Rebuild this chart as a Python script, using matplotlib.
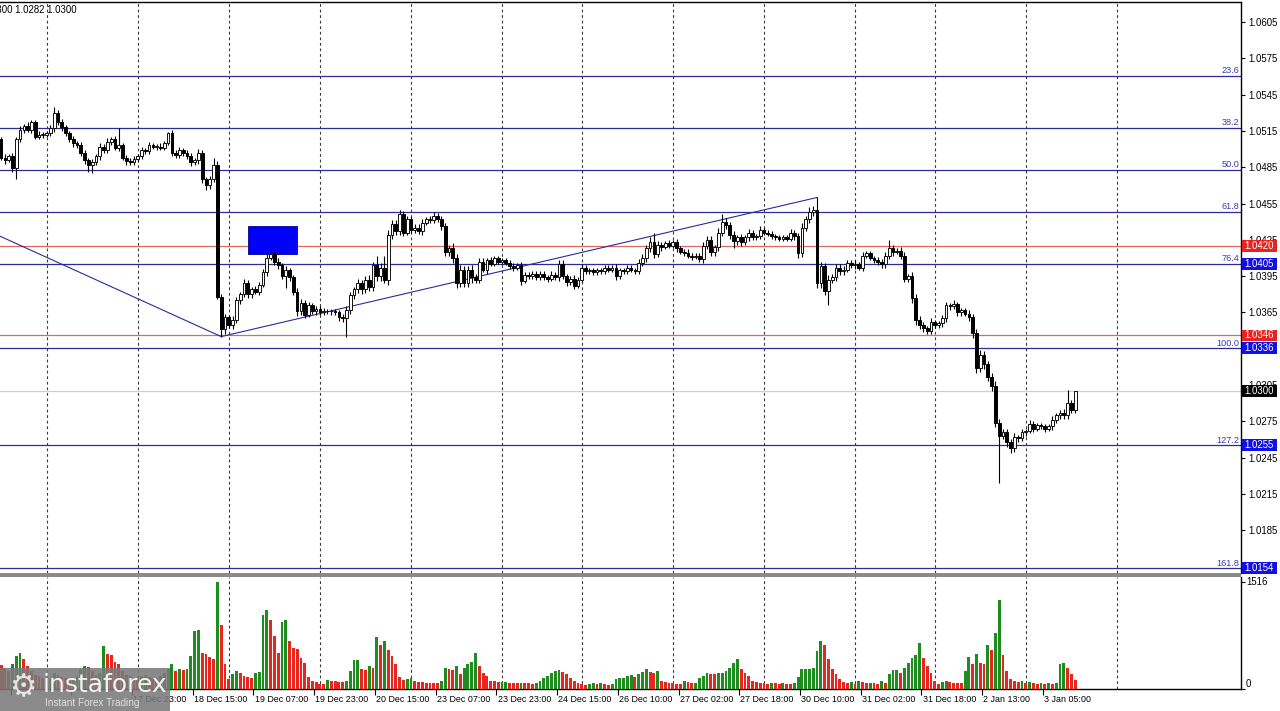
import numpy as np
import matplotlib
matplotlib.use("Agg")
import matplotlib.pyplot as plt
from matplotlib.patches import Rectangle
import matplotlib.transforms as mtransforms

plt.rcParams['font.family'] = ['Liberation Sans', 'DejaVu Sans']

# ---------------- data (hourly EURUSD bars) ----------------
open_first = 1.0508
close = [
    1.0493, 1.0491, 1.0494, 1.0484, 1.0508, 1.0516, 1.0519, 1.0516, 1.0522, 1.0510,
    1.0512, 1.0512, 1.0513, 1.0517, 1.0530, 1.0522, 1.0518, 1.0513, 1.0508, 1.0505,
    1.0503, 1.0497, 1.0491, 1.0487, 1.0489, 1.0494, 1.0502, 1.0499, 1.0506, 1.0508,
    1.0501, 1.0503, 1.0493, 1.0490, 1.0489, 1.0492, 1.0494, 1.0499, 1.0498, 1.0503,
    1.0502, 1.0502, 1.0501, 1.0505, 1.0513, 1.0497, 1.0495, 1.0499, 1.0497, 1.0494,
    1.0489, 1.0491, 1.0497, 1.0475, 1.0470, 1.0475, 1.0487, 1.0378, 1.0351, 1.0361,
    1.0355, 1.0359, 1.0375, 1.0380, 1.0389, 1.0380, 1.0384, 1.0382, 1.0388, 1.0398,
    1.0410, 1.0413, 1.0407, 1.0404, 1.0395, 1.0400, 1.0394, 1.0382, 1.0366, 1.0373,
    1.0363, 1.0371, 1.0366, 1.0368, 1.0365, 1.0366, 1.0366, 1.0366, 1.0365, 1.0361,
    1.0360, 1.0367, 1.0379, 1.0384, 1.0389, 1.0384, 1.0392, 1.0386, 1.0404, 1.0395,
    1.0402, 1.0392, 1.0429, 1.0438, 1.0432, 1.0446, 1.0431, 1.0442, 1.0433, 1.0435,
    1.0432, 1.0439, 1.0442, 1.0441, 1.0445, 1.0442, 1.0436, 1.0415, 1.0418, 1.0410,
    1.0389, 1.0400, 1.0389, 1.0400, 1.0394, 1.0392, 1.0407, 1.0400, 1.0408, 1.0405,
    1.0410, 1.0407, 1.0408, 1.0406, 1.0403, 1.0402, 1.0404, 1.0391, 1.0396, 1.0395,
    1.0397, 1.0394, 1.0397, 1.0394, 1.0393, 1.0396, 1.0394, 1.0405, 1.0395, 1.0390,
    1.0393, 1.0387, 1.0392, 1.0402, 1.0399, 1.0400, 1.0398, 1.0400, 1.0399, 1.0402,
    1.0400, 1.0402, 1.0395, 1.0400, 1.0399, 1.0402, 1.0400, 1.0399, 1.0406, 1.0410,
    1.0418, 1.0423, 1.0413, 1.0421, 1.0419, 1.0422, 1.0420, 1.0423, 1.0418, 1.0415,
    1.0414, 1.0412, 1.0411, 1.0412, 1.0409, 1.0420, 1.0425, 1.0415, 1.0419, 1.0431,
    1.0440, 1.0437, 1.0429, 1.0424, 1.0427, 1.0423, 1.0427, 1.0431, 1.0427, 1.0428,
    1.0433, 1.0431, 1.0430, 1.0428, 1.0427, 1.0426, 1.0427, 1.0426, 1.0431, 1.0428,
    1.0414, 1.0435, 1.0442, 1.0448, 1.0450, 1.0389, 1.0403, 1.0383, 1.0392, 1.0394,
    1.0402, 1.0399, 1.0400, 1.0406, 1.0404, 1.0405, 1.0402, 1.0412, 1.0414, 1.0410,
    1.0408, 1.0407, 1.0405, 1.0412, 1.0418, 1.0415, 1.0416, 1.0412, 1.0393, 1.0395,
    1.0377, 1.0359, 1.0355, 1.0352, 1.0350, 1.0357, 1.0355, 1.0356, 1.0360, 1.0371,
    1.0370, 1.0372, 1.0365, 1.0367, 1.0364, 1.0361, 1.0348, 1.0319, 1.0330, 1.0322,
    1.0312, 1.0304, 1.0274, 1.0263, 1.0266, 1.0258, 1.0253, 1.0262, 1.0261, 1.0266,
    1.0267, 1.0273, 1.0269, 1.0272, 1.0271, 1.0269, 1.0271, 1.0276, 1.0280, 1.0282,
    1.0280, 1.0290, 1.0284, 1.0300,
]
# upper / lower shadow lengths in pips
wick_up = [
    2, 3, 2, 3, 2, 3, 2, 3, 2, 2, 3, 2, 2, 3, 5, 2, 3, 2, 2, 3,
    2, 3, 2, 2, 3, 2, 3, 2, 3, 2, 3, 14, 2, 2, 3, 2, 2, 3, 2, 3,
    2, 2, 3, 2, 1, 3, 2, 3, 2, 2, 3, 2, 3, 2, 2, 3, 6, 3, 2, 3,
    2, 3, 3, 2, 4, 3, 2, 3, 2, 3, 3, 8, 3, 3, 2, 3, 2, 2, 3, 3,
    2, 3, 2, 2, 2, 3, 2, 2, 2, 2, 3, 3, 3, 2, 4, 3, 3, 4, 3, 8,
    4, 10, 4, 3, 3, 4, 3, 3, 2, 3, 3, 3, 2, 3, 3, 2, 3, 3, 3, 4,
    3, 4, 3, 3, 4, 3, 3, 3, 2, 3, 2, 2, 2, 2, 2, 3, 2, 3, 2, 2,
    2, 2, 2, 2, 2, 3, 2, 3, 3, 2, 2, 3, 2, 3, 2, 2, 2, 2, 2, 2,
    2, 2, 3, 2, 2, 2, 2, 2, 3, 3, 3, 4, 8, 3, 2, 2, 3, 2, 3, 2,
    2, 3, 2, 2, 2, 3, 3, 3, 2, 4, 6, 3, 3, 3, 2, 3, 2, 3, 2, 2,
    3, 2, 2, 2, 2, 2, 2, 2, 3, 2, 3, 4, 3, 4, 3, 10, 4, 3, 4, 3,
    3, 3, 3, 2, 2, 3, 2, 3, 2, 2, 2, 3, 2, 3, 7, 3, 2, 3, 3, 2,
    3, 3, 3, 2, 2, 3, 2, 2, 3, 3, 2, 3, 2, 2, 2, 3, 3, 3, 4, 3,
    3, 3, 4, 3, 3, 3, 2, 3, 2, 3, 2, 3, 2, 2, 2, 2, 2, 3, 2, 2,
    3, 11, 3, 0,
]
wick_dn = [
    2, 3, 2, 3, 9, 2, 3, 2, 3, 2, 2, 3, 2, 2, 3, 2, 3, 2, 2, 3,
    2, 3, 3, 6, 7, 2, 3, 2, 2, 3, 2, 3, 2, 3, 2, 2, 3, 2, 2, 2,
    2, 3, 2, 2, 2, 3, 2, 2, 3, 2, 3, 2, 3, 3, 4, 3, 2, 2, 6, 4,
    3, 4, 3, 3, 2, 3, 3, 2, 3, 2, 3, 2, 3, 3, 2, 10, 3, 3, 4, 3,
    3, 2, 2, 3, 2, 2, 2, 3, 2, 3, 3, 15, 3, 3, 3, 4, 3, 3, 3, 4,
    4, 3, 4, 3, 3, 3, 3, 2, 2, 2, 2, 3, 2, 2, 2, 2, 3, 3, 3, 4,
    4, 3, 3, 3, 5, 3, 3, 2, 3, 2, 2, 2, 2, 2, 2, 3, 2, 3, 2, 2,
    2, 2, 2, 2, 3, 2, 2, 3, 2, 3, 2, 3, 2, 2, 2, 2, 2, 2, 2, 2,
    2, 2, 3, 2, 2, 2, 2, 2, 2, 3, 3, 3, 3, 2, 3, 2, 2, 2, 3, 2,
    2, 2, 3, 2, 2, 3, 3, 3, 3, 3, 3, 3, 3, 6, 3, 3, 2, 3, 2, 2,
    2, 2, 2, 2, 2, 2, 2, 2, 2, 3, 4, 3, 3, 3, 3, 4, 4, 4, 12, 3,
    3, 3, 3, 2, 2, 3, 2, 3, 2, 2, 2, 3, 3, 3, 3, 3, 2, 3, 3, 3,
    4, 4, 4, 3, 3, 3, 3, 3, 3, 3, 3, 2, 3, 3, 2, 3, 4, 4, 3, 4,
    4, 4, 4, 39, 3, 4, 4, 3, 3, 2, 3, 2, 3, 2, 2, 3, 2, 3, 2, 3,
    3, 3, 2, 2,
]
volume = [
    340, 300, 250, 350, 466, 513, 420, 330, 260, 200,
    180, 150, 140, 160, 220, 200, 170, 150, 130, 150,
    180, 280, 330, 310, 250, 200, 230, 615, 495, 480,
    380, 360, 250, 200, 180, 160, 150, 180, 200, 170,
    160, 150, 180, 220, 280, 350, 256, 280, 275, 285,
    466, 815, 840, 513, 490, 450, 420, 1516, 909, 350,
    140, 210, 256, 233, 186, 163, 150, 233, 240, 1049,
    1118, 979, 746, 513, 955, 979, 676, 583, 560, 443,
    373, 163, 116, 93, 70, 68, 126, 116, 107, 105,
    93, 116, 256, 405, 410, 280, 275, 326, 303, 732,
    630, 676, 559, 466, 350, 163, 126, 140, 154, 107,
    105, 93, 90, 88, 80, 78, 107, 303, 280, 275,
    326, 210, 303, 350, 382, 503, 326, 233, 186, 116,
    107, 93, 95, 100, 85, 80, 78, 85, 80, 78,
    70, 90, 114, 157, 186, 229, 257, 265, 243, 214,
    150, 114, 86, 70, 60, 75, 85, 70, 80, 65,
    60, 75, 140, 150, 160, 186, 200, 175, 210, 240,
    290, 245, 230, 250, 116, 95, 90, 80, 75, 70,
    116, 93, 80, 85, 150, 190, 224, 215, 210, 224,
    225, 260, 303, 373, 419, 280, 233, 186, 107, 100,
    90, 80, 75, 85, 80, 70, 85, 75, 70, 90,
    163, 280, 285, 290, 303, 536, 685, 629, 419, 280,
    210, 140, 93, 80, 93, 70, 107, 93, 80, 90,
    80, 70, 107, 80, 210, 266, 270, 233, 294, 373,
    443, 480, 652, 443, 326, 233, 116, 70, 93, 110,
    100, 90, 85, 80, 256, 452, 359, 489, 373, 350,
    629, 559, 792, 1258, 475, 256, 140, 107, 93, 107,
    89, 102, 80, 70, 80, 70, 85, 75, 80, 359,
    365, 303, 210, 126,
]

# time axis (bar indices); the first labels lie under the watermark
time_label_bars = [35, 51, 67, 83, 99, 115, 131, 147, 163, 179,
                   195, 211, 227, 243, 259, 275]
time_labels = ["17 Dec 23:00", "18 Dec 15:00",
               "19 Dec 07:00", "19 Dec 23:00", "20 Dec 15:00", "23 Dec 07:00",
               "23 Dec 23:00", "24 Dec 15:00", "26 Dec 10:00", "27 Dec 02:00",
               "27 Dec 18:00", "30 Dec 10:00", "31 Dec 02:00", "31 Dec 18:00",
               "2 Jan 13:00", "3 Jan 05:00"]
time_tick_bars = [3, 19] + time_label_bars
day_start_bars = [12, 36, 60, 84, 108, 132, 153, 177, 201, 225, 246, 270, 294]

price_ticks = [1.0605, 1.0575, 1.0545, 1.0515, 1.0485, 1.0455, 1.0425, 1.0395,
               1.0365, 1.0335, 1.0305, 1.0275, 1.0245, 1.0215, 1.0185, 1.0155]
hidden_tick_labels = [1.0335, 1.0155]   # fully covered by level boxes
price_lim = (1.014963, 1.062153)

fib_top = 1.06302
fib_base = 1.03356
fib_ratios = [23.6, 38.2, 50.0, 61.8, 76.4, 100.0, 127.2, 161.8]
red_levels = [1.0420, 1.0346]
last_price = 1.0300
trend_bars = [-0.3, 58, 215]
trend_prices = [1.0428, 1.0345, 1.0460]
zone_bars = [65, 78]
zone_prices = [1.0413, 1.0436]
vol_scale_max = 1516
header = "EURUSD,H1  1.0284 1.0300 1.0282 1.0300"

# ---------------- colours ----------------
NAVY = '#2b2b9c'
FIBTXT = '#3a3ab8'
REDLINE = '#dc6a64'
BOXBLUE = '#1010e6'
BOXRED = '#e8231f'
VGREEN = '#1e8c1e'
VRED = '#e8261e'
GRID = '#3a3a3a'
FS = 6.9

W, H = 1280, 711
fig = plt.figure(figsize=(W / 100, H / 100), dpi=100)
fig.patch.set_facecolor('white')

ax = fig.add_axes([0, 1 - 573 / H, 1241 / W, 571 / H])
axv = fig.add_axes([0, 1 - 689 / H, 1241 / W, 112 / H])

n = len(close)
x = np.arange(n)
opens = np.array([open_first] + close[:-1])
closes = np.array(close)
highs = np.maximum(opens, closes) + np.array(wick_up) * 0.0001
lows = np.minimum(opens, closes) - np.array(wick_dn) * 0.0001

xlim = (-0.29, 326.7)

# ---------------- price panel ----------------
ax.set_xlim(*xlim)
ax.set_ylim(*price_lim)

for b in day_start_bars:
    ax.axvline(b, color=GRID, lw=0.8, ls=(0, (2.5, 2.5)), zorder=1)
    axv.axvline(b, color=GRID, lw=0.8, ls=(0, (2.5, 2.5)), zorder=1)

bt = mtransforms.blended_transform_factory(ax.transAxes, ax.transData)
fib_prices = [fib_base + (fib_top - fib_base) * (1 - r / 100.0) for r in fib_ratios]
for r, p in zip(fib_ratios, fib_prices):
    ax.axhline(p, color=NAVY, lw=0.9, zorder=2)
    ax.text(1239.5 / 1241, p + 0.00003, f"{r:.1f}", transform=bt,
            ha='right', va='bottom', fontsize=6.6, color=FIBTXT, zorder=6)
for p in red_levels:
    ax.axhline(p, color=REDLINE, lw=0.9, zorder=2)
ax.axhline(last_price, color='#cfcfcf', lw=0.9, zorder=2)

ax.add_patch(Rectangle((zone_bars[0], zone_prices[0]), zone_bars[1] - zone_bars[0],
                       zone_prices[1] - zone_prices[0], fc='#0000ff', ec='#00008a',
                       lw=0.6, zorder=2.5))
ax.plot(trend_bars, trend_prices, color=NAVY, lw=0.8, zorder=2.6)

# candles
ax.vlines(x, lows, highs, color='black', lw=0.8, zorder=3)
up = closes >= opens
body_bot = np.minimum(opens, closes)
body_h = np.maximum(np.abs(closes - opens), 0.000015)
ax.bar(x[up], body_h[up], bottom=body_bot[up], width=0.72, color='white',
       edgecolor='#111111', linewidth=0.7, zorder=4)
ax.bar(x[~up], body_h[~up], bottom=body_bot[~up], width=0.72, color='black',
       edgecolor='black', linewidth=0.7, zorder=4)

ax.yaxis.tick_right()
ax.set_yticks(price_ticks)
ax.set_yticklabels(["" if t in hidden_tick_labels else f"{t:.4f}" for t in price_ticks])
ax.tick_params(axis='y', direction='out', length=3, width=0.8, pad=2,
               labelsize=FS, colors='black')
ax.set_xticks([])
for s in ['left', 'bottom']:
    ax.spines[s].set_visible(False)
ax.spines['top'].set_linewidth(1.0)
ax.spines['right'].set_linewidth(1.0)

# right-side price boxes
half = 5.8 / 12100
boxes = [(red_levels[0], BOXRED), (fib_prices[fib_ratios.index(76.4)], BOXBLUE),
         (red_levels[1], BOXRED), (fib_prices[fib_ratios.index(100.0)], BOXBLUE),
         (last_price, 'black'), (fib_prices[fib_ratios.index(127.2)], BOXBLUE),
         (fib_prices[fib_ratios.index(161.8)], BOXBLUE)]
for p, c in boxes:
    ax.add_patch(Rectangle((1242 / 1241, p - half), 35 / 1241, 2 * half, transform=bt,
                           fc=c, ec='none', clip_on=False, zorder=7))
    ax.text(1244.5 / 1241, p, f"{p:.4f}", transform=bt, ha='left', va='center',
            fontsize=FS, color='white', zorder=8, clip_on=False)

# ---------------- volume panel ----------------
vol = np.array(volume)
vcol = [VRED] + [VGREEN if vol[i] >= vol[i - 1] else VRED for i in range(1, n)]
axv.bar(x, vol, width=0.75, color=vcol, zorder=3)
axv.set_xlim(*xlim)
axv.set_ylim(0, vol_scale_max * 112 / 107)
axv.yaxis.tick_right()
axv.set_yticks([vol_scale_max, 0])
axv.set_yticklabels(["", ""])
axv.tick_params(axis='y', direction='out', length=3, width=0.8)
vt = mtransforms.blended_transform_factory(axv.transAxes, axv.transData)
axv.text(1246 / 1241, vol_scale_max, str(vol_scale_max), transform=vt, ha='left',
         va='center', fontsize=FS)
axv.text(1246 / 1241, 5 * 14.3, "0", transform=vt, ha='left', va='center', fontsize=FS)
axv.set_xticks([b - 0.5 for b in time_tick_bars])
axv.set_xticklabels([])
axv.tick_params(axis='x', direction='out', length=4, width=0.8)
for s in ['left', 'top']:
    axv.spines[s].set_visible(False)
axv.spines['bottom'].set_linewidth(1.0)
axv.spines['right'].set_linewidth(1.0)
xt = mtransforms.blended_transform_factory(axv.transData, axv.transAxes)
for b, lab in zip(time_label_bars, time_labels):
    axv.text(b - 0.2, -11 / 112, lab, transform=xt, ha='left', va='center',
             fontsize=6.4, clip_on=False)

# separator between panels
fig.patches.append(Rectangle((0, 1 - 577 / H), 1241 / W, 4 / H, transform=fig.transFigure,
                             fc='#8a8a8a', ec='none', zorder=5))

# header (cut at left edge)
fig.text(77 / W, 1 - 10 / H, header, ha='right', va='center', fontsize=FS, zorder=8)

# watermark logo
fig.patches.append(Rectangle((0, 0), 170 / W, 43 / H, transform=fig.transFigure,
                             fc='#7a7a7a', ec='none', alpha=0.88, zorder=10))
fig.text(23 / W, 1 - 688 / H, "\u2699", ha='center', va='center', fontsize=22,
         color='#e6e6e6', family=['DejaVu Sans'], zorder=11)
fig.text(43 / W, 1 - 685 / H, "instaforex", ha='left', va='center', fontsize=18,
         color='#f2f2f2', family=['DejaVu Sans'], zorder=11)
fig.text(45 / W, 1 - 703 / H, "Instant Forex Trading", ha='left', va='center',
         fontsize=7.2, color='#e0e0e0', zorder=11)

fig.savefig('out.png', dpi=100, facecolor='white')
